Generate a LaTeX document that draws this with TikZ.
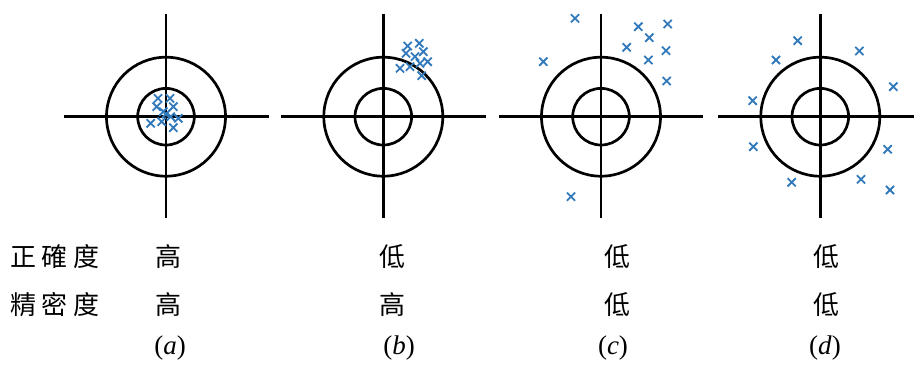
\documentclass[tikz,border=0pt]{standalone}
\usepackage{fontspec}
\setmainfont{Liberation Serif}
\newfontfamily\cjk{Noto Sans CJK TC}
\definecolor{xblue}{RGB}{50,122,188}
\tikzset{
  ring/.style={draw=black,line width=2.7pt},
  hair/.style={draw=black,line width=2.9pt},
  xmark/.style={draw=xblue,line width=1.8pt},
  cjklabel/.style={anchor=base,inner sep=0pt,font=\cjk\fontsize{26}{26}\selectfont},
  caplabel/.style={anchor=base,inner sep=0pt,font=\fontsize{27}{27}\selectfont},
}
\newcommand{\xm}[2]{\draw[xmark] (#1-4.1,#2-4.1) -- (#1+4.1,#2+4.1) (#1-4.1,#2+4.1) -- (#1+4.1,#2-4.1);}
\newcommand{\target}[3]{% name, cx, right extent
  \coordinate (#1) at (#2,116.7);
  \draw[hair] ([xshift=-102pt]#1) -- ([xshift=#3pt]#1);
  \draw[hair] (#2,14) -- (#2,218);
  \draw[ring] (#1) circle[radius=59.5];
  \draw[ring] (#1) circle[radius=28.3];
}
\begin{document}
\begin{tikzpicture}[x=1pt,y=-1pt]
\useasboundingbox (0,0) rectangle (914,367);
\fill[white] (0,0) rectangle (914,367);
\target{ta}{166}{103}
\target{tb}{383.3}{103}
\target{tc}{601}{102}
\target{td}{820.3}{100}
% (a)
\foreach \p/\q in {158/98.3,170/98.3,156.7/106.7,173.3/106.7,163.3/111.7,170.7/116.7,178.3/118.3,161.7/121.7,150.7/123.3,173.3/127.7,166/114}{\xm{\p}{\q}}
% (b)
\foreach \p/\q in {407.7/46,419.3/43.3,406/53.3,423.3/51.7,415/56.7,427.7/61.7,400/68.3,410/66.7,420/63.3,421.7/75.7}{\xm{\p}{\q}}
% (c)
\foreach \p/\q in {575/18.3,638.3/26.7,667.7/24,649.3/37.7,626.7/47.3,666/50.7,648.3/60,543.3/61.7,666.7/81,571/196.7}{\xm{\p}{\q}}
% (d)
\foreach \p/\q in {797.7/40.7,776/60,859.3/51,893.3/86.7,752.7/100.7,753.3/146.7,887.7/149.3,791.7/182.3,861/179.3,890/190}{\xm{\p}{\q}}
% labels
\node[cjklabel,anchor=base west] (acc) at (10,266.8) {正\hspace{5.5pt}確\hspace{5.5pt}度};
\node[cjklabel,anchor=base west] (pre) at (10,314.3) {精\hspace{5.5pt}密\hspace{5.5pt}度};
\node[cjklabel] (a1) at (168,266.8) {高};
\node[cjklabel] (a2) at (168,314.3) {高};
\node[cjklabel] (b1) at (392,266.8) {低};
\node[cjklabel] (b2) at (392,314.3) {高};
\node[cjklabel] (c1) at (617,266.8) {低};
\node[cjklabel] (c2) at (617,314.3) {低};
\node[cjklabel] (d1) at (826,266.8) {低};
\node[cjklabel] (d2) at (826,314.3) {低};
\node[caplabel] (la) at (170,354) {(\textit{a})};
\node[caplabel] (lb) at (399,354) {(\textit{b})};
\node[caplabel] (lc) at (613,354) {(\textit{c})};
\node[caplabel] (ld) at (825,354) {(\textit{d})};
\end{tikzpicture}
\end{document}
